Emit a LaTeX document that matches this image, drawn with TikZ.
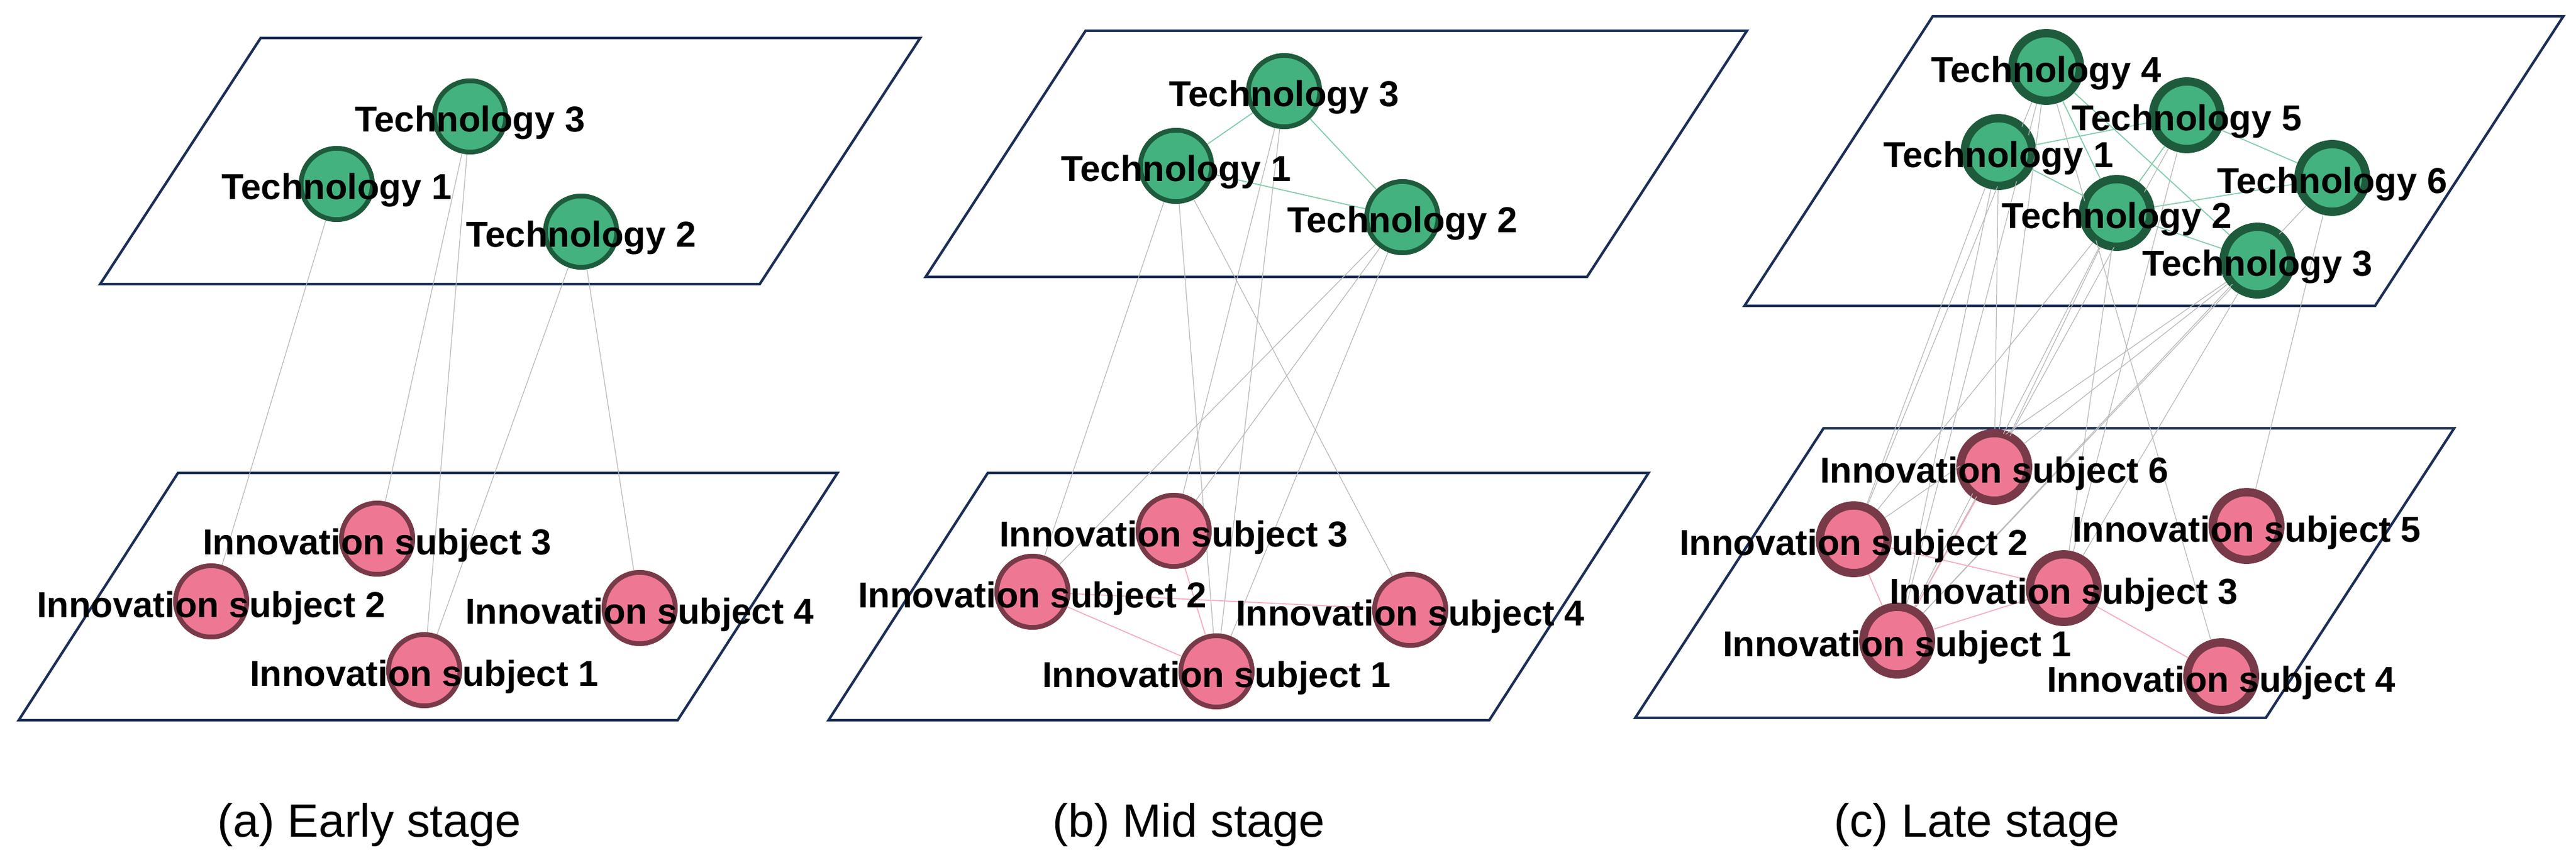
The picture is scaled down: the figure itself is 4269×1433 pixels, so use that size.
\documentclass[tikz,border=0pt]{standalone}
\usepackage{fontspec}
\setmainfont{Liberation Sans}
\definecolor{techfill}{HTML}{43B27F}
\definecolor{techline}{HTML}{1E5B3D}
\definecolor{subjfill}{HTML}{EE7893}
\definecolor{subjline}{HTML}{783A48}
\definecolor{plane}{HTML}{1B2E55}
\tikzset{
  tech/.style={circle,draw=techline,fill=techfill,line width=2.2pt,minimum size=1.18cm,inner sep=0pt},
  subj/.style={circle,draw=subjline,fill=subjfill,line width=2.2pt,minimum size=1.18cm,inner sep=0pt},
  lab/.style={font=\fontsize{17}{17}\selectfont\bfseries,inner sep=0pt},
  layer/.style={draw=plane,line width=1.2pt},
  link/.style={draw=gray!55,line width=0.35pt},
  tlink/.style={draw=techfill!65,line width=0.5pt},
  slink/.style={draw=subjfill!60,line width=0.5pt},
  stagecap/.style={font=\fontsize{22}{22}\selectfont}
}
\begin{document}
\begin{tikzpicture}[x=0.01cm,y=-0.01cm]
\useasboundingbox (0,0) rectangle (4269,1433);

% layers
\draw[layer] (432,63) -- (1525,63) -- (1259,471) -- (166,471) -- cycle;
\draw[layer] (295,784) -- (1388,784) -- (1123,1194) -- (31,1194) -- cycle;
\draw[layer] (1799,51) -- (2895,51) -- (2630,459) -- (1534,459) -- cycle;
\draw[layer] (1637,784) -- (2732,784) -- (2468,1194) -- (1373,1194) -- cycle;
\draw[layer] (3203,27) -- (4248,27) -- (3936,507) -- (2891,507) -- cycle;
\draw[layer] (3022,710) -- (4067,710) -- (3755,1190) -- (2710,1190) -- cycle;

% (a) early stage
\node[tech] (a-t3) at (779,193) {};
\node[tech] (a-t1) at (558,305) {};
\node[tech] (a-t2) at (963,384) {};
\node[subj] (a-s3) at (625,893) {};
\node[subj] (a-s2) at (350,997) {};
\node[subj] (a-s4) at (1060,1008) {};
\node[subj] (a-s1) at (703,1111) {};

% (b) mid stage
\node[tech] (b-t3) at (2128,151) {};
\node[tech] (b-t1) at (1949,275) {};
\node[tech] (b-t2) at (2324,360) {};
\node[subj] (b-s3) at (1945,880) {};
\node[subj] (b-s2) at (1711,981) {};
\node[subj] (b-s4) at (2337,1011) {};
\node[subj] (b-s1) at (2016,1113) {};

% (c) late stage
\begin{scope}[every node/.append style={minimum size=1.06cm}]
\node[tech] (c-t4) at (3391,111) {};
\node[tech] (c-t5) at (3624,191) {};
\node[tech] (c-t1) at (3312,252) {};
\node[tech] (c-t6) at (3865,295) {};
\node[tech] (c-t2) at (3508,353) {};
\node[tech] (c-t3) at (3741,432) {};
\node[subj] (c-s6) at (3305,774) {};
\node[subj] (c-s5) at (3723,872) {};
\node[subj] (c-s2) at (3072,894) {};
\node[subj] (c-s3) at (3420,975) {};
\node[subj] (c-s1) at (3144,1062) {};
\node[subj] (c-s4) at (3681,1121) {};
\end{scope}

% links
\foreach \u/\v in {a-t1/a-s2,a-t3/a-s3,a-t3/a-s1,a-t2/a-s1,a-t2/a-s4,
  b-t1/b-s2,b-t1/b-s1,b-t1/b-s4,b-t3/b-s3,b-t3/b-s1,b-t2/b-s2,b-t2/b-s3,b-t2/b-s1,
  c-t1/c-s2,c-t1/c-s1,c-t1/c-s6,c-t4/c-s1,c-t4/c-s2,c-t4/c-s6,c-t4/c-s4,
  c-t2/c-s2,c-t2/c-s1,c-t2/c-s6,c-t2/c-s3,c-t5/c-s1,c-t5/c-s3,
  c-t3/c-s6,c-t3/c-s2,c-t3/c-s1,c-t3/c-s3,c-t6/c-s5,c-t6/c-s1}
  \path[link] (\u) -- (\v);
\foreach \u/\v in {b-t3/b-t1,b-t3/b-t2,b-t1/b-t2,
  c-t1/c-t5,c-t1/c-t2,c-t4/c-t2,c-t4/c-t3,c-t5/c-t6,c-t5/c-t2,c-t2/c-t6,c-t2/c-t3}
  \path[tlink] (\u) -- (\v);
\foreach \u/\v in {b-s3/b-s1,b-s2/b-s4,b-s2/b-s1,
  c-s6/c-s1,c-s2/c-s1,c-s2/c-s3,c-s1/c-s3,c-s3/c-s4}
  \path[slink] (\u) -- (\v);

% redraw nodes over links
\foreach \n/\s in {a-t3/tech,a-t1/tech,a-t2/tech,a-s3/subj,a-s2/subj,a-s4/subj,a-s1/subj,
  b-t3/tech,b-t1/tech,b-t2/tech,b-s3/subj,b-s2/subj,b-s4/subj,b-s1/subj}
  \node[\s] at (\n) {};
\foreach \n/\s in {c-t4/tech,c-t5/tech,c-t1/tech,c-t6/tech,c-t2/tech,c-t3/tech,
  c-s6/subj,c-s5/subj,c-s2/subj,c-s3/subj,c-s1/subj,c-s4/subj}
  \node[\s,minimum size=1.06cm] at (\n) {};

% labels
\foreach \n/\t in {a-t3/Technology 3,a-t1/Technology 1,a-t2/Technology 2,
  b-t3/Technology 3,b-t1/Technology 1,b-t2/Technology 2,
  c-t4/Technology 4,c-t5/Technology 5,c-t1/Technology 1,c-t6/Technology 6,c-t2/Technology 2,c-t3/Technology 3}
  \node[lab] at ([yshift=-0.1cm]\n) {\t};
\foreach \n/\t in {a-s3/3,a-s2/2,a-s4/4,a-s1/1,b-s3/3,b-s2/2,b-s4/4,b-s1/1,
  c-s6/6,c-s5/5,c-s2/2,c-s3/3,c-s1/1,c-s4/4}
  \node[lab] at ([yshift=-0.11cm]\n) {Innovation subject \t};

% captions
\node[stagecap] (cap-a) at (612,1367) {(a) Early stage};
\node[stagecap] (cap-b) at (1970,1367) {(b) Mid stage};
\node[stagecap] (cap-c) at (3276,1367) {(c) Late stage};
\end{tikzpicture}
\end{document}
